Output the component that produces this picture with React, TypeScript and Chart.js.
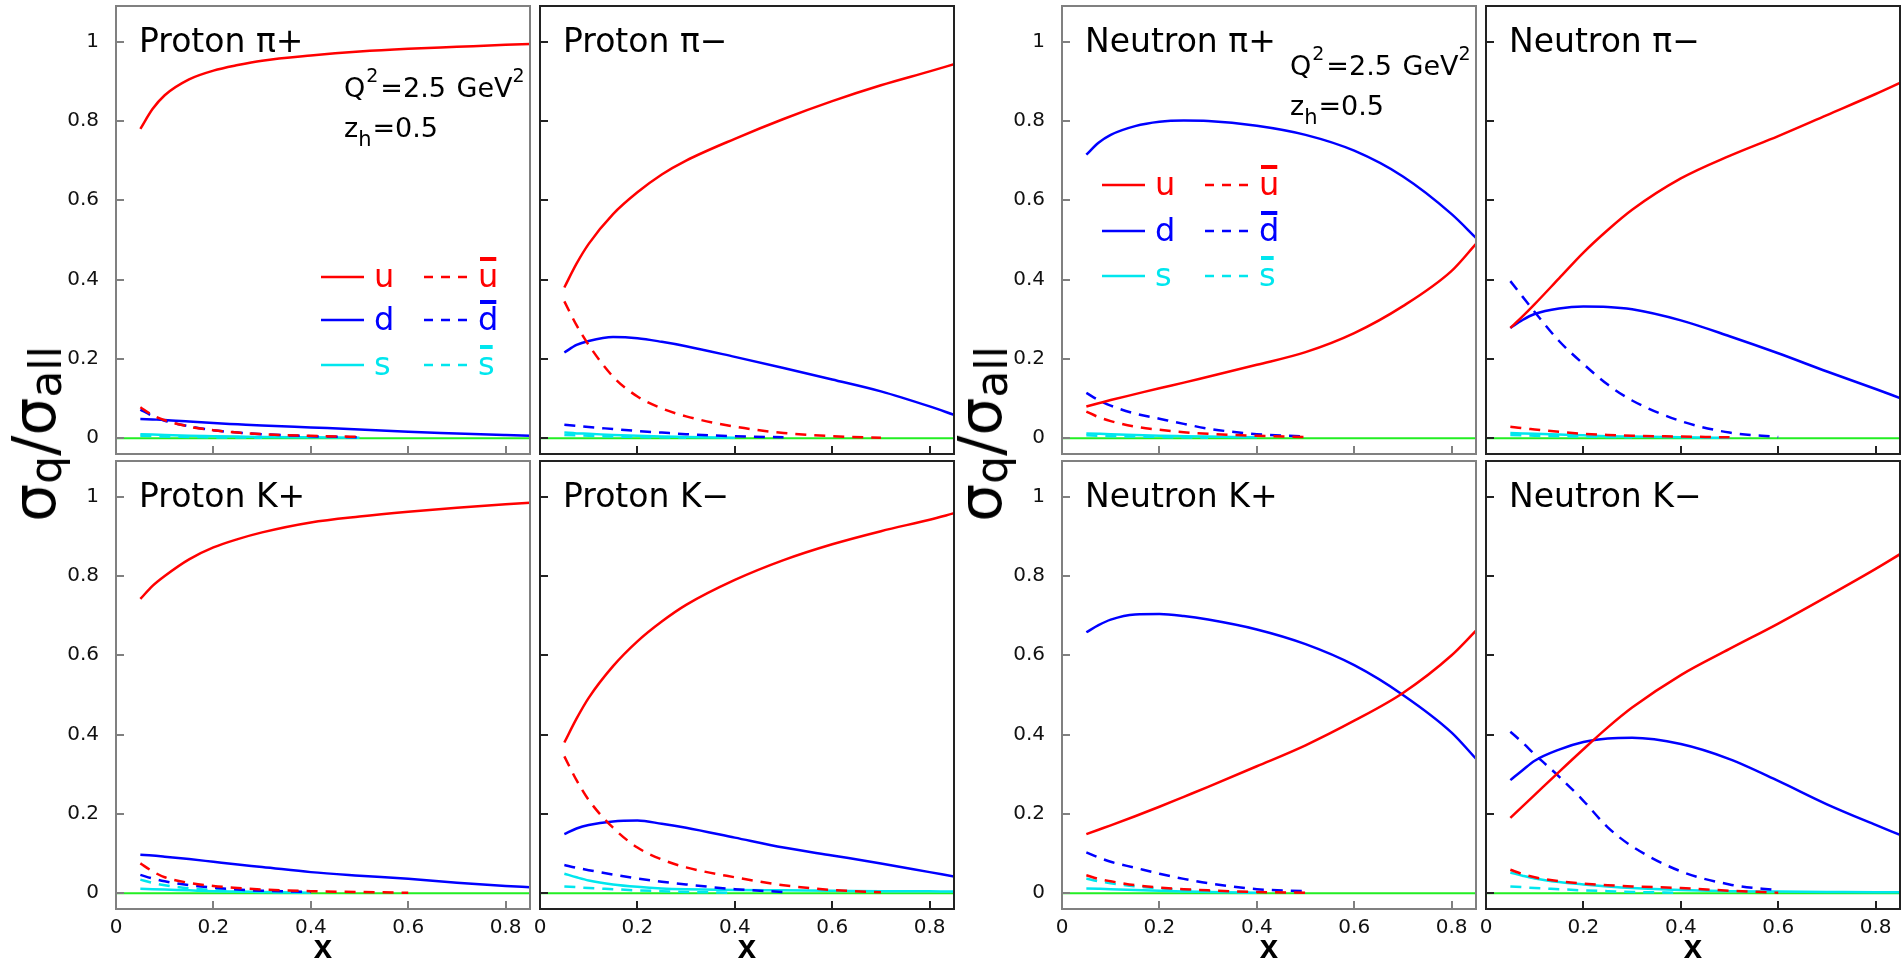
import React, { useEffect, useRef } from 'react';
import { Chart, registerables } from 'chart.js';

Chart.register(...registerables);

// ---------- shared axes ----------
const X_GRID = [0.05, 0.075, 0.1, 0.15, 0.2, 0.25, 0.3, 0.4, 0.5, 0.6, 0.7, 0.8, 0.85];
const X_TICKS = [0, 0.2, 0.4, 0.6, 0.8];
const X_TICK_LABELS = ['0', '0.2', '0.4', '0.6', '0.8'];
const Y_TICKS = [0, 0.2, 0.4, 0.6, 0.8, 1];
const Y_TICK_LABELS = ['0', '0.2', '0.4', '0.6', '0.8', '1'];
const X_MIN = 0;
const X_MAX = 0.85;
const Y_MIN = -0.04;
const Y_MAX = 1.09;
const ZERO_X = [0, 0.85];
const ZERO_Y = [0, 0];

// ---------- Proton pi+ ----------
const PPIP_U = [0.78, 0.83, 0.865, 0.905, 0.927, 0.941, 0.952, 0.965, 0.975, 0.982, 0.987, 0.992, 0.994];
const PPIP_UBAR = [0.078, 0.058, 0.045, 0.029, 0.02, 0.014, 0.01, 0.006, 0.003, null, null, null, null];
const PPIP_D = [0.048, 0.047, 0.046, 0.042, 0.038, 0.035, 0.032, 0.027, 0.022, 0.016, 0.012, 0.008, 0.006];
const PPIP_DBAR = [0.072, 0.056, 0.044, 0.03, 0.02, 0.014, 0.01, 0.005, 0.002, null, null, null, null];
const PPIP_S = [0.01, 0.009, 0.008, 0.006, 0.005, 0.004, 0.003, 0.002, 0.001, null, null, null, null];
const PPIP_SBAR = [0.006, 0.005, 0.004, 0.003, 0.002, 0.0015, 0.001, null, null, null, null, null, null];

// ---------- Proton pi- ----------
const PPIM_U = [0.38, 0.44, 0.49, 0.565, 0.62, 0.665, 0.7, 0.755, 0.805, 0.85, 0.89, 0.925, 0.943];
const PPIM_UBAR = [0.345, 0.285, 0.235, 0.155, 0.105, 0.075, 0.055, 0.029, 0.013, 0.005, 0.001, null, null];
const PPIM_D = [0.216, 0.235, 0.245, 0.255, 0.252, 0.243, 0.232, 0.205, 0.177, 0.148, 0.118, 0.08, 0.059];
const PPIM_DBAR = [0.034, 0.031, 0.028, 0.023, 0.018, 0.014, 0.01, 0.005, 0.002, null, null, null, null];
const PPIM_S = [0.014, 0.012, 0.011, 0.008, 0.006, 0.004, 0.003, 0.001, null, null, null, null, null];
const PPIM_SBAR = [0.008, 0.007, 0.006, 0.004, 0.003, 0.002, 0.001, null, null, null, null, null, null];

// ---------- Neutron pi+ ----------
const NPIP_U = [0.08, 0.088, 0.096, 0.111, 0.126, 0.14, 0.155, 0.185, 0.217, 0.265, 0.333, 0.422, 0.49];
const NPIP_UBAR = [0.067, 0.053, 0.043, 0.029, 0.021, 0.015, 0.011, 0.006, 0.003, null, null, null, null];
const NPIP_D = [0.715, 0.745, 0.765, 0.787, 0.798, 0.801, 0.8, 0.788, 0.765, 0.725, 0.66, 0.565, 0.505];
const NPIP_DBAR = [0.114, 0.096, 0.082, 0.062, 0.049, 0.036, 0.024, 0.01, 0.004, null, null, null, null];
const NPIP_S = [0.012, 0.011, 0.01, 0.008, 0.006, 0.005, 0.004, 0.002, null, null, null, null, null];
const NPIP_SBAR = [0.007, 0.006, 0.005, 0.004, 0.003, 0.002, 0.001, null, null, null, null, null, null];

// ---------- Neutron pi- ----------
const NPIM_U = [0.278, 0.307, 0.338, 0.403, 0.468, 0.525, 0.576, 0.655, 0.712, 0.762, 0.815, 0.868, 0.896];
const NPIM_UBAR = [0.029, 0.025, 0.022, 0.016, 0.011, 0.008, 0.006, 0.004, 0.002, null, null, null, null];
const NPIM_D = [0.278, 0.298, 0.313, 0.327, 0.332, 0.331, 0.325, 0.297, 0.257, 0.214, 0.168, 0.124, 0.101];
const NPIM_DBAR = [0.396, 0.357, 0.318, 0.245, 0.187, 0.135, 0.095, 0.043, 0.014, 0.003, null, null, null];
const NPIM_S = [0.013, 0.012, 0.011, 0.009, 0.007, 0.005, 0.004, 0.002, 0.001, null, null, null, null];
const NPIM_SBAR = [0.008, 0.007, 0.006, 0.005, 0.004, 0.003, 0.002, null, null, null, null, null, null];

// ---------- Proton K+ ----------
const PKP_U = [0.742, 0.775, 0.8, 0.842, 0.872, 0.893, 0.91, 0.935, 0.95, 0.962, 0.972, 0.981, 0.985];
const PKP_UBAR = [0.075, 0.055, 0.04, 0.026, 0.018, 0.013, 0.009, 0.005, 0.003, 0.001, null, null, null];
const PKP_D = [0.097, 0.095, 0.092, 0.086, 0.079, 0.072, 0.066, 0.053, 0.044, 0.036, 0.026, 0.018, 0.015];
const PKP_DBAR = [0.046, 0.037, 0.03, 0.02, 0.014, 0.009, 0.006, 0.003, null, null, null, null, null];
const PKP_S = [0.011, 0.01, 0.009, 0.007, 0.005, 0.004, 0.003, 0.001, null, null, null, null, null];
const PKP_SBAR = [0.034, 0.026, 0.02, 0.012, 0.008, 0.005, 0.003, 0.001, null, null, null, null, null];

// ---------- Proton K- ----------
const PKM_U = [0.38, 0.44, 0.4925, 0.5725, 0.635, 0.685, 0.727, 0.79, 0.84, 0.88, 0.913, 0.942, 0.958];
const PKM_UBAR = [0.345, 0.285, 0.235, 0.165, 0.115, 0.085, 0.065, 0.04, 0.02, 0.008, 0.002, null, null];
const PKM_D = [0.149, 0.163, 0.172, 0.181, 0.183, 0.175, 0.165, 0.14, 0.115, 0.095, 0.075, 0.053, 0.042];
const PKM_DBAR = [0.071, 0.064, 0.058, 0.047, 0.037, 0.029, 0.022, 0.01, 0.003, null, null, null, null];
const PKM_S = [0.049, 0.04, 0.032, 0.022, 0.016, 0.012, 0.01, 0.008, 0.007, 0.006, 0.005, 0.005, 0.004];
const PKM_SBAR = [0.017, 0.015, 0.013, 0.01, 0.007, 0.005, 0.003, 0.001, null, null, null, null, null];

// ---------- Neutron K+ ----------
const NKP_U = [0.149, 0.16, 0.171, 0.194, 0.218, 0.243, 0.268, 0.32, 0.373, 0.435, 0.505, 0.6, 0.662];
const NKP_UBAR = [0.045, 0.036, 0.03, 0.02, 0.014, 0.01, 0.007, 0.003, 0.001, null, null, null, null];
const NKP_D = [0.658, 0.676, 0.69, 0.703, 0.704, 0.699, 0.69, 0.665, 0.628, 0.575, 0.5, 0.405, 0.339];
const NKP_DBAR = [0.103, 0.09, 0.079, 0.064, 0.049, 0.036, 0.025, 0.01, 0.005, null, null, null, null];
const NKP_S = [0.012, 0.011, 0.01, 0.008, 0.006, 0.004, 0.003, 0.001, null, null, null, null, null];
const NKP_SBAR = [0.037, 0.03, 0.025, 0.017, 0.012, 0.008, 0.005, 0.002, null, null, null, null, null];

// ---------- Neutron K- ----------
const NKM_U = [0.19, 0.219, 0.248, 0.306, 0.363, 0.418, 0.468, 0.55, 0.616, 0.68, 0.748, 0.818, 0.855];
const NKM_UBAR = [0.059, 0.048, 0.04, 0.03, 0.024, 0.02, 0.017, 0.013, 0.006, 0.001, null, null, null];
const NKM_D = [0.285, 0.31, 0.334, 0.362, 0.381, 0.39, 0.392, 0.376, 0.338, 0.283, 0.224, 0.172, 0.147];
const NKM_DBAR = [0.407, 0.38, 0.35, 0.294, 0.233, 0.166, 0.118, 0.055, 0.022, 0.007, null, null, null];
const NKM_S = [0.052, 0.044, 0.037, 0.028, 0.022, 0.017, 0.013, 0.008, 0.005, 0.004, 0.003, 0.002, 0.002];
const NKM_SBAR = [0.017, 0.015, 0.013, 0.01, 0.007, 0.005, 0.003, 0.001, null, null, null, null, null];

// ---------- styling / layout ----------
const RED = '#ff0000';
const BLUE = '#0000ff';
const CYAN = '#00e6ee';
const GREEN = '#22ee22';
const SERIES_COLORS = [RED, RED, BLUE, BLUE, CYAN, CYAN];
const SERIES_DASHED = [false, true, false, true, false, true];
const LEGEND_QUARKS = ['u', 'd', 's'];
const LEGEND_COLORS = [RED, BLUE, CYAN];
const FONT = '"DejaVu Sans", sans-serif';

const PANEL_LEFTS = [116, 540, 1062, 1486];
const ROW_TOPS = [6, 461];
const PANEL_W = 414;
const PANEL_H = 448;
const AXIS_W = 80;
const AXIS_H = 60;
const PAD = 2;
const CANVAS_W = AXIS_W + PANEL_W + PAD;
const CANVAS_H = PAD + PANEL_H + AXIS_H;

const PANELS = [
  { title: 'Proton π+', row: 0, col: 0, frame: '#808080', series: [PPIP_U, PPIP_UBAR, PPIP_D, PPIP_DBAR, PPIP_S, PPIP_SBAR], info: 91, legend: { x: 205, rows: [271, 314, 359] } },
  { title: 'Proton π−', row: 0, col: 1, frame: '#222222', series: [PPIM_U, PPIM_UBAR, PPIM_D, PPIM_DBAR, PPIM_S, PPIM_SBAR] },
  { title: 'Neutron π+', row: 0, col: 2, frame: '#808080', series: [NPIP_U, NPIP_UBAR, NPIP_D, NPIP_DBAR, NPIP_S, NPIP_SBAR], info: 69, legend: { x: 40, rows: [179, 225, 270] } },
  { title: 'Neutron π−', row: 0, col: 3, frame: '#222222', series: [NPIM_U, NPIM_UBAR, NPIM_D, NPIM_DBAR, NPIM_S, NPIM_SBAR] },
  { title: 'Proton K+', row: 1, col: 0, frame: '#808080', series: [PKP_U, PKP_UBAR, PKP_D, PKP_DBAR, PKP_S, PKP_SBAR] },
  { title: 'Proton K−', row: 1, col: 1, frame: '#222222', series: [PKM_U, PKM_UBAR, PKM_D, PKM_DBAR, PKM_S, PKM_SBAR] },
  { title: 'Neutron K+', row: 1, col: 2, frame: '#808080', series: [NKP_U, NKP_UBAR, NKP_D, NKP_DBAR, NKP_S, NKP_SBAR] },
  { title: 'Neutron K−', row: 1, col: 3, frame: '#222222', series: [NKM_U, NKM_UBAR, NKM_D, NKM_DBAR, NKM_S, NKM_SBAR] },
];

function makeDeco(p: any) {
  return {
    id: 'deco',
    afterDatasetsDraw(chart: any) {
      const { ctx, chartArea: a } = chart;
      const xs = chart.scales.x;
      const ys = chart.scales.y;
      ctx.save();
      ctx.setLineDash([]);
      ctx.strokeStyle = p.frame;
      ctx.lineWidth = 2;
      ctx.beginPath();
      X_TICKS.forEach((v) => {
        const px = Math.round(xs.getPixelForValue(v));
        ctx.moveTo(px, a.bottom);
        ctx.lineTo(px, a.bottom - 8);
      });
      Y_TICKS.forEach((v) => {
        const py = Math.round(ys.getPixelForValue(v));
        ctx.moveTo(a.left, py);
        ctx.lineTo(a.left + 8, py);
      });
      ctx.stroke();
      ctx.strokeRect(a.left, a.top, a.right - a.left, a.bottom - a.top);

      ctx.textAlign = 'left';
      ctx.textBaseline = 'alphabetic';
      ctx.fillStyle = '#000';
      ctx.font = `33px ${FONT}`;
      ctx.fillText(p.title, a.left + 23, a.top + 46);

      if (p.info) {
        const x0 = a.left + 228;
        const yb = a.top + p.info;
        const big = `27px ${FONT}`;
        const sup = `19px ${FONT}`;
        let x = x0;
        ctx.font = big; ctx.fillText('Q', x, yb); x += ctx.measureText('Q').width + 1;
        ctx.font = sup; ctx.fillText('2', x, yb - 15); x += ctx.measureText('2').width + 2;
        ctx.font = big; ctx.fillText('=2.5', x, yb); x += ctx.measureText('=2.5 ').width + 2;
        ctx.fillText('GeV', x, yb); x += ctx.measureText('GeV').width;
        ctx.font = sup; ctx.fillText('2', x, yb - 15);
        const yb2 = yb + 40;
        x = x0;
        ctx.font = big; ctx.fillText('z', x, yb2); x += ctx.measureText('z').width;
        ctx.font = `21px ${FONT}`; ctx.fillText('h', x, yb2 + 9); x += ctx.measureText('h').width + 1;
        ctx.font = big; ctx.fillText('=0.5', x, yb2);
      }

      if (p.legend) {
        const lx = a.left + p.legend.x;
        p.legend.rows.forEach((ry: number, i: number) => {
          const y = a.top + ry;
          const col = LEGEND_COLORS[i];
          ctx.strokeStyle = col;
          ctx.fillStyle = col;
          ctx.lineWidth = 2.5;
          ctx.setLineDash([]);
          ctx.beginPath(); ctx.moveTo(lx, y); ctx.lineTo(lx + 43, y); ctx.stroke();
          ctx.setLineDash([9, 8]);
          ctx.beginPath(); ctx.moveTo(lx + 103, y); ctx.lineTo(lx + 146, y); ctx.stroke();
          ctx.setLineDash([]);
          ctx.font = `32px ${FONT}`;
          ctx.fillText(LEGEND_QUARKS[i], lx + 53, y + 10);
          const tx = lx + 157;
          ctx.fillText(LEGEND_QUARKS[i], tx, y + 10);
          const w = ctx.measureText(LEGEND_QUARKS[i]).width;
          ctx.fillRect(tx + 2, y - 20, w - 4, 4);
        });
      }
      ctx.restore();
    },
  };
}

function buildConfig(p: any) {
  const showX = p.row === 1;
  const showY = p.col === 0 || p.col === 2;
  const datasets: any[] = p.series.map((vals: (number | null)[], i: number) => ({
    data: X_GRID.map((x, k) => ({ x, y: vals[k] })),
    borderColor: SERIES_COLORS[i],
    borderWidth: 2.5,
    borderDash: SERIES_DASHED[i] ? [11, 8] : [],
    pointRadius: 0,
    cubicInterpolationMode: 'monotone',
    spanGaps: false,
    fill: false,
  }));
  datasets.push({
    data: ZERO_X.map((x, k) => ({ x, y: ZERO_Y[k] })),
    borderColor: GREEN,
    borderWidth: 2,
    pointRadius: 0,
    tension: 0,
    fill: false,
  });
  const zeroPad = (s: any) => {
    s.paddingLeft = 0; s.paddingRight = 0; s.paddingTop = 0; s.paddingBottom = 0;
  };
  return {
    type: 'line',
    data: { datasets },
    options: {
      animation: false,
      responsive: false,
      devicePixelRatio: 1,
      events: [],
      layout: { padding: { top: PAD, right: PAD, left: 0, bottom: 0 } },
      plugins: { legend: { display: false }, tooltip: { enabled: false }, title: { display: false } },
      scales: {
        x: {
          type: 'linear', min: X_MIN, max: X_MAX, bounds: 'data',
          grid: { display: false, drawTicks: false },
          border: { display: false },
          ticks: {
            display: showX, padding: 7, color: '#111', maxRotation: 0, autoSkip: false,
            font: { family: FONT, size: 20 },
            callback: (_v: any, i: number) => X_TICK_LABELS[i] ?? '',
          },
          title: { display: showX, text: 'x', color: '#000', padding: 0, font: { family: '"Liberation Sans", sans-serif', size: 33, weight: 'bold' } },
          afterBuildTicks: (s: any) => { s.ticks = X_TICKS.map((v) => ({ value: v })); },
          afterFit: (s: any) => { s.height = AXIS_H; zeroPad(s); },
        },
        y: {
          type: 'linear', min: Y_MIN, max: Y_MAX, bounds: 'data',
          grid: { display: false, drawTicks: false },
          border: { display: false },
          ticks: {
            display: showY, padding: 17, color: '#111', autoSkip: false,
            font: { family: FONT, size: 20 },
            callback: (_v: any, i: number) => Y_TICK_LABELS[i] ?? '',
          },
          afterBuildTicks: (s: any) => { s.ticks = Y_TICKS.map((v) => ({ value: v })); },
          afterFit: (s: any) => { s.width = AXIS_W; zeroPad(s); },
        },
      },
    },
    plugins: [makeDeco(p)],
  } as any;
}

function Panel({ p }: { p: any }) {
  const ref = useRef<HTMLCanvasElement | null>(null);
  useEffect(() => {
    if (!ref.current) return;
    const chart = new Chart(ref.current, buildConfig(p));
    return () => chart.destroy();
  }, [p]);
  const left = PANEL_LEFTS[p.col] - AXIS_W;
  const top = ROW_TOPS[p.row] - PAD;
  return (
    <canvas
      ref={ref}
      width={CANVAS_W}
      height={CANVAS_H}
      style={{ position: 'absolute', left, top, width: CANVAS_W, height: CANVAS_H }}
    />
  );
}

function YTitle({ cx, cy }: { cx: number; cy: number }) {
  const sub: React.CSSProperties = { fontSize: 44, position: 'relative', top: 6 };
  return (
    <div
      style={{
        position: 'absolute', left: cx, top: cy,
        transform: 'translate(-50%, -50%) rotate(-90deg)',
        whiteSpace: 'nowrap', fontFamily: FONT, fontSize: 60, lineHeight: '60px', color: '#000',
      }}
    >
      σ<span style={sub}>q</span>/σ<span style={sub}>all</span>
    </div>
  );
}

export default function App() {
  return (
    <div style={{ position: 'absolute', left: 0, top: 0, width: 1901, height: 967, overflow: 'hidden', background: '#fff' }}>
      {PANELS.map((p) => (
        <Panel key={p.title} p={p} />
      ))}
      <YTitle cx={37} cy={434} />
      <YTitle cx={983} cy={434} />
    </div>
  );
}
